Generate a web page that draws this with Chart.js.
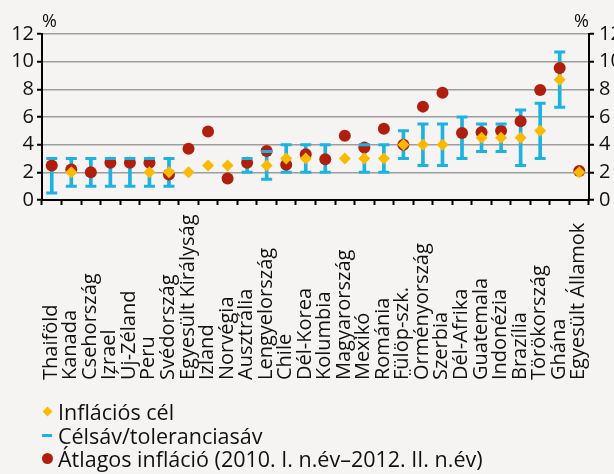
<!DOCTYPE html>
<html lang="hu">
<head>
<meta charset="utf-8">
<script src="https://cdn.jsdelivr.net/npm/chart.js@4"></script>
<style>
  body { margin: 0; background: #f5f4f2; }
  #wrap { position: relative; width: 614px; height: 474px; }
  #legenda { position: absolute; left: 42px; top: 400px; font: 21.5px "Open Sans", sans-serif; color: #111; }
  .sor { height: 23.5px; line-height: 23.5px; white-space: nowrap; display: flex; align-items: center; }
  .jel { display: inline-block; width: 12px; margin-right: 4px; position: relative; height: 12px; }
  .jel i { position: absolute; display: block; }
</style>
</head>
<body>
<div id="wrap">
  <canvas id="grafikon" width="614" height="474"></canvas>
  <div id="legenda"></div>
</div>
<script>
const orszagok = ["Thaiföld", "Kanada", "Csehország", "Izrael", "Új-Zéland", "Peru", "Svédország",
  "Egyesült Királyság", "Izland", "Norvégia", "Ausztrália", "Lengyelország", "Chile", "Dél-Korea",
  "Kolumbia", "Magyarország", "Mexikó", "Románia", "Fülöp-szk.", "Örményország", "Szerbia",
  "Dél-Afrika", "Guatemala", "Indonézia", "Brazília", "Törökország", "Ghána", "Egyesült Államok"];

const inflaciosCel = [null, 2, null, null, null, 2, 2, 2, 2.5, 2.5, null, 2.5, 3, 3,
  null, 3, 3, 3, 4, 4, 4, null, 4.5, 4.5, 4.5, 5, 8.7, 2];

const savAlso = [0.5, 1, 1, 1, 1, 1, 1, null, null, null, 2, 1.5, 2, 2,
  2, null, 2, 2, 3, 2.5, 2.5, 3, 3.5, 3.5, 2.5, 3, 6.7, null];
const savFelso = [3, 3, 3, 3, 3, 3, 3, null, null, null, 3, 3.5, 4, 4,
  4, null, 4, 4, 5, 5.5, 5.5, 6, 5.5, 5.5, 6.5, 7, 10.7, null];

const atlagosInflacio = [2.5, 2.2, 2.0, 2.7, 2.7, 2.7, 1.85, 3.7, 4.95, 1.55, 2.7, 3.55, 2.55, 3.3,
  2.95, 4.65, 3.8, 5.15, 4.0, 6.75, 7.75, 4.85, 4.9, 5.0, 5.7, 7.95, 9.55, 2.1];

const yTickek = [0, 2, 4, 6, 8, 10, 12];

const SARGA = "#fbb900";
const KEK = "#1db2e2";
const PIROS = "#b01f0e";
const betu = '"Open Sans", sans-serif';

const savok = savAlso.map((a, i) => (a === null ? null : [a, savFelso[i]]));

// x tengely feliratai alulra igazítva, a százalékjelek a tengelyek fölött
const feliratok = {
  id: "feliratok",
  afterDraw(chart) {
    const ctx = chart.ctx;
    const x = chart.scales.x;
    const area = chart.chartArea;
    ctx.save();
    ctx.fillStyle = "#111";
    ctx.font = "20px " + betu;
    ctx.textAlign = "left";
    ctx.textBaseline = "alphabetic";
    orszagok.forEach((nev, i) => {
      const px = x.getPixelForValue(i);
      ctx.save();
      ctx.translate(px + 5, 380);
      ctx.rotate(-Math.PI / 2);
      ctx.fillText(nev, 0, 0);
      ctx.restore();
    });
    ctx.font = "18px " + betu;
    ctx.fillText("%", area.left, area.top - 7);
    ctx.textAlign = "right";
    ctx.fillText("%", area.right, area.top - 7);
    ctx.restore();
  }
};

const yTengely = (pozicio, racs) => ({
  position: pozicio,
  min: 0,
  max: 12,
  afterBuildTicks: (s) => { s.ticks = yTickek.map(v => ({ value: v })); },
  afterFit: (s) => { s.width = pozicio === "left" ? 42 : 25; },
  border: { display: true, color: "#000", width: 2 },
  grid: {
    drawOnChartArea: racs,
    color: "#9d9d9d",
    lineWidth: 1.5,
    borderDash: [2, 4],
    tickColor: "#000",
    tickWidth: 2,
    tickLength: 5
  },
  ticks: { color: "#111", padding: pozicio === "left" ? 3 : 5, font: { family: betu, size: 20 } }
});

new Chart(document.getElementById("grafikon"), {
  data: {
    labels: orszagok,
    datasets: [
      {
        type: "line",
        label: "Inflációs cél",
        data: inflaciosCel,
        showLine: false,
        pointStyle: "rectRot",
        pointRadius: 6,
        pointBackgroundColor: SARGA,
        pointBorderWidth: 0,
        order: 0
      },
      {
        type: "line",
        label: "sáv felső",
        data: savFelso,
        showLine: false,
        pointStyle: "line",
        pointRadius: 5.5,
        pointBorderColor: KEK,
        pointBorderWidth: 3,
        order: 1
      },
      {
        type: "line",
        label: "sáv alsó",
        data: savAlso,
        showLine: false,
        pointStyle: "line",
        pointRadius: 5.5,
        pointBorderColor: KEK,
        pointBorderWidth: 3,
        order: 1
      },
      {
        type: "line",
        label: "Átlagos infláció (2010. I. n.év–2012. II. n.év)",
        data: atlagosInflacio,
        showLine: false,
        pointStyle: "circle",
        pointRadius: 6,
        pointBackgroundColor: PIROS,
        pointBorderWidth: 0,
        order: 2
      },
      {
        type: "bar",
        label: "Célsáv/toleranciasáv",
        data: savok,
        backgroundColor: KEK,
        barThickness: 3,
        borderWidth: 0,
        order: 3
      }
    ]
  },
  options: {
    responsive: false,
    animation: false,
    events: [],
    layout: { padding: { top: 34, left: 0, right: 0, bottom: 84 } },
    plugins: { legend: { display: false }, tooltip: { enabled: false } },
    scales: {
      x: {
        type: "category",
        offset: true,
        afterFit: (s) => { s.height = 190; },
        border: { display: true, color: "#000", width: 2 },
        grid: {
          offset: true,
          drawOnChartArea: false,
          color: "#000",
          tickColor: "#000",
          tickWidth: 2,
          tickLength: 5
        },
        ticks: { display: false, autoSkip: false }
      },
      y: yTengely("left", true),
      y2: yTengely("right", false)
    }
  },
  plugins: [feliratok]
});

// jelmagyarázat
const legendaElemek = [
  { szoveg: "Inflációs cél", jel: `<i style="left:2px;top:2px;width:7px;height:7px;background:${SARGA};transform:rotate(45deg)"></i>` },
  { szoveg: "Célsáv/toleranciasáv", jel: `<i style="left:0;top:5px;width:10px;height:3px;background:${KEK}"></i>` },
  { szoveg: "Átlagos infláció (2010. I. n.év–2012. II. n.év)", jel: `<i style="left:0;top:0;width:11px;height:11px;border-radius:50%;background:${PIROS}"></i>` }
];
const legenda = document.getElementById("legenda");
legendaElemek.forEach(e => {
  const sor = document.createElement("div");
  sor.className = "sor";
  sor.innerHTML = `<span class="jel">${e.jel}</span><span>${e.szoveg}</span>`;
  legenda.appendChild(sor);
});
</script>
</body>
</html>
